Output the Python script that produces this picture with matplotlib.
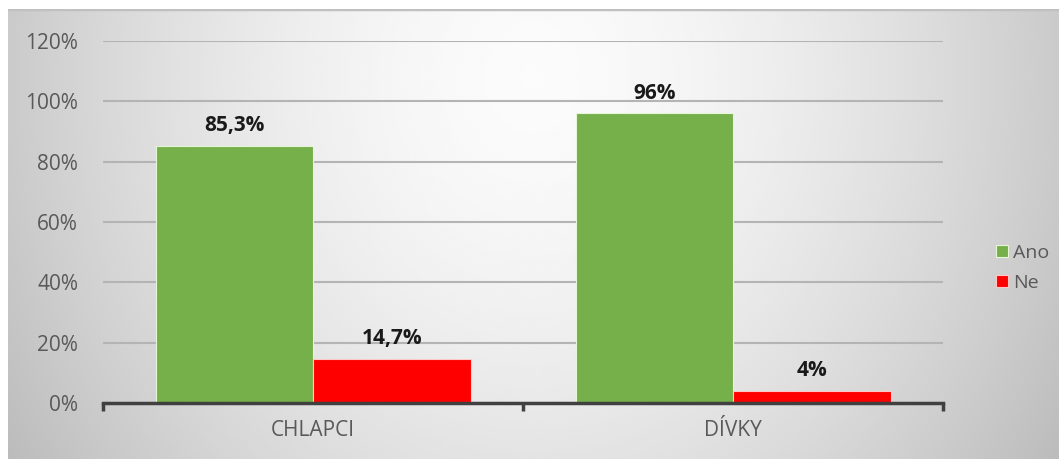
import numpy as np
import matplotlib
matplotlib.use("Agg")
import matplotlib.pyplot as plt

categories = ["CHLAPCI", "DÍVKY"]
series_names = ["Ano", "Ne"]
ano = [0.853, 0.96]
ne = [0.147, 0.04]
ano_labels = ["85,3%", "96%"]
ne_labels = ["14,7%", "4%"]
yticks = [0, 0.2, 0.4, 0.6, 0.8, 1.0, 1.2]
ytick_labels = ["0%", "20%", "40%", "60%", "80%", "100%", "120%"]

GREEN = "#76b04b"
RED = "#ff0000"
W, H = 1059, 459
plt.rcParams["font.family"] = ["Open Sans", "DejaVu Sans"]

fig = plt.figure(figsize=(W / 100, H / 100), dpi=100, facecolor="white")

# radial grey background, leaving a thin white margin top and left
bg = fig.add_axes([8 / W, 0, 1 - 8 / W, 1 - 9 / H], zorder=-10)
yy, xx = np.mgrid[0:1:300j, -1:1:700j]
r = np.sqrt((xx * 1.0) ** 2 + ((yy - 0.15) * 0.75) ** 2)
bg.imshow(0.985 - 0.19 * np.clip(r, 0, 1.3) ** 1.6, cmap="gray", vmin=0, vmax=1,
          aspect="auto", extent=[0, 1, 0, 1], origin="upper",
          interpolation="bicubic")
bg.axhline(1, color="#c0c0c0", linewidth=2.5)
bg.set_xlim(0, 1)
bg.set_ylim(0, 1)
bg.axis("off")

ax = fig.add_axes([103 / W, 1 - 403 / H, 840 / W, 362 / H])
ax.patch.set_alpha(0)

x = np.arange(len(categories))
w = 0.375
b1 = ax.bar(x - w / 2, ano, w, color=GREEN, edgecolor="#e8f5d8", linewidth=0.8,
            label=series_names[0], zorder=3)
b2 = ax.bar(x + w / 2, ne, w, color=RED, edgecolor="#ffc8c8", linewidth=0.8,
            label=series_names[1], zorder=3)

for bars, labs in ((b1, ano_labels), (b2, ne_labels)):
    for rect, lab in zip(bars, labs):
        ax.annotate(lab, (rect.get_x() + rect.get_width() / 2, rect.get_height()),
                    xytext=(0, 7), textcoords="offset points", ha="center",
                    va="bottom", fontsize=15, fontweight="bold", color="#1a1a1a")

ax.set_xlim(-0.5, 1.5)
ax.set_ylim(0, 1.2)
ax.set_yticks(yticks)
ax.set_yticklabels(ytick_labels)
ax.yaxis.grid(True, color="#b4b4b4", linewidth=1.5, zorder=0)
ax.set_axisbelow(True)
ax.tick_params(axis="y", length=0, pad=18, labelsize=15, labelcolor="#595959")

ax.set_xticks([-0.5, 0.5, 1.5], minor=False)
ax.set_xticklabels([])
ax.set_xticks(x, minor=True)
ax.set_xticklabels(categories, minor=True)
ax.tick_params(axis="x", which="major", length=6, width=2.5, color="#404040")
ax.tick_params(axis="x", which="minor", length=0, pad=12, labelsize=15,
               labelcolor="#595959")

for s in ("top", "right", "left"):
    ax.spines[s].set_visible(False)
ax.spines["bottom"].set_color("#404040")
ax.spines["bottom"].set_linewidth(2.5)
ax.spines["bottom"].set_zorder(4)

leg = fig.legend(handles=[b1, b2], loc="center left",
                 bbox_to_anchor=(992 / W, 1 - 268 / H), frameon=False,
                 fontsize=14, handlelength=0.6, handleheight=0.6,
                 handletextpad=0.3, labelspacing=0.6, borderpad=0.2,
                 borderaxespad=0)
for t in leg.get_texts():
    t.set_color("#595959")

fig.savefig("out.png", dpi=100, facecolor="white")
